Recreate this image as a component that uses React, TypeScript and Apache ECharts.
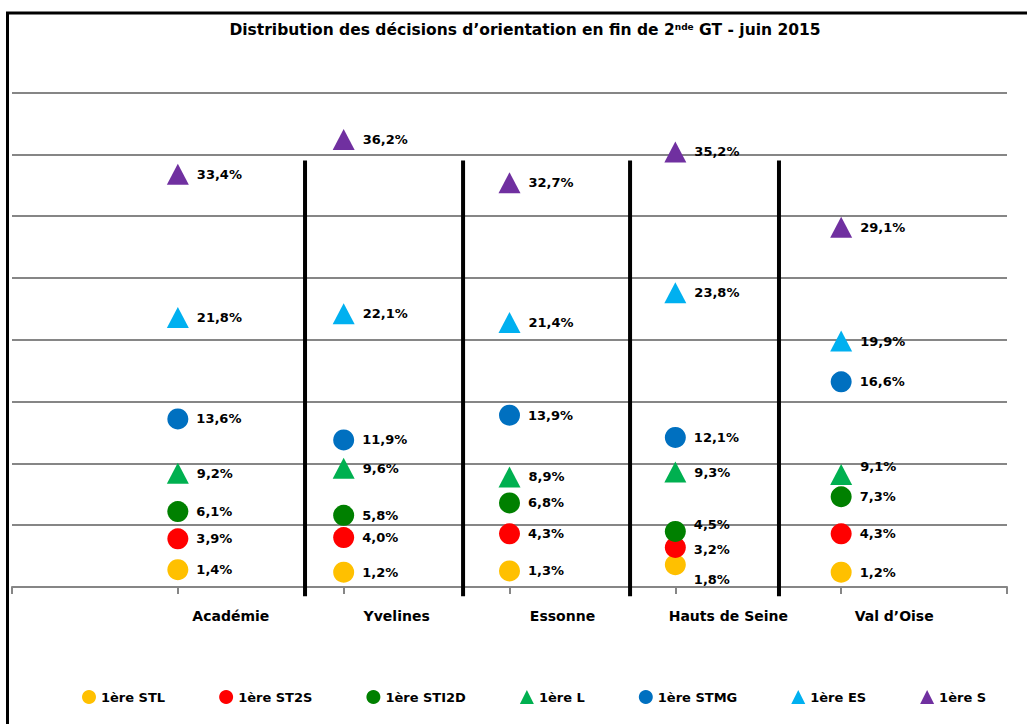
import React, { useEffect, useRef } from "react";
import * as echarts from "echarts";

const categories = ["Académie", "Yvelines", "Essonne", "Hauts de Seine", "Val d’Oise"];
const seriesNames = ["1ère STL", "1ère ST2S", "1ère STI2D", "1ère L", "1ère STMG", "1ère ES", "1ère S"];
const stl = [1.4, 1.2, 1.3, 1.8, 1.2];
const st2s = [3.9, 4.0, 4.3, 3.2, 4.3];
const sti2d = [6.1, 5.8, 6.8, 4.5, 7.3];
const litt = [9.2, 9.6, 8.9, 9.3, 9.1];
const stmg = [13.6, 11.9, 13.9, 12.1, 16.6];
const es = [21.8, 22.1, 21.4, 23.8, 19.9];
const sci = [33.4, 36.2, 32.7, 35.2, 29.1];
const seriesValues = [stl, st2s, sti2d, litt, stmg, es, sci];
const separatorX = [1.767, 2.72, 3.727, 4.625];
const separatorRange = [-0.75, 34.5];

const colors = ["#FFC000", "#FF0000", "#008000", "#00B050", "#0070C0", "#00B0F0", "#7030A0"];
const shapes = ["circle", "circle", "circle", "triangle", "circle", "triangle", "triangle"];
// vertical label nudges (px), keyed "seriesIndex-pointIndex"
const labelShift: Record<string, number> = { "2-3": -7, "1-3": 2, "0-3": 15, "3-4": -8 };

const FONT = "DejaVu Sans";

export default function App() {
  const ref = useRef<HTMLDivElement>(null);
  useEffect(() => {
    if (!ref.current) return;
    const chart = echarts.init(ref.current, undefined, { renderer: "svg" });
    const fmt = (v: number) => v.toFixed(1).replace(".", ",") + "%";
    const series: any[] = [
      {
        name: "separators",
        type: "custom",
        silent: true,
        clip: false,
        data: separatorX.map((x) => [x]),
        encode: { x: 0 },
        renderItem: (params: any, api: any) => {
          const x = api.value(0);
          const a = api.coord([x, separatorRange[1]]);
          const b = api.coord([x, separatorRange[0]]);
          return {
            type: "line",
            shape: { x1: a[0], y1: a[1], x2: b[0], y2: b[1] },
            style: { stroke: "#000", lineWidth: 4 },
          };
        },
      },
    ];
    seriesNames.forEach((name, si) =>
      series.push({
        name,
        type: "scatter",
        symbol: shapes[si],
        symbolSize: shapes[si] === "circle" ? 21 : [22, 21],
        itemStyle: { color: colors[si], opacity: 1 },
        data: seriesValues[si].map((v, i) => {
          const sh = labelShift[`${si}-${i}`];
          const item: any = { value: [i + 1, v] };
          if (sh) item.label = { offset: [0, sh] };
          return item;
        }),
        label: {
          show: true,
          position: "right",
          distance: 8,
          formatter: (p: any) => fmt(p.value[1]),
          color: "#000",
          fontFamily: FONT,
          fontWeight: "bold",
          fontSize: 13,
        },
        emphasis: { disabled: true },
      })
    );
    chart.setOption({
      animation: false,
      backgroundColor: "#fff",
      title: {
        text: "Distribution des décisions d’orientation en fin de 2{sup|nde} GT - juin 2015",
        left: 525,
        textAlign: "center",
        top: 22,
        padding: 0,
        textStyle: {
          fontFamily: FONT,
          fontWeight: "bold",
          fontSize: 15.5,
          color: "#000",
          rich: {
            sup: { fontFamily: FONT, fontWeight: "bold", fontSize: 9, verticalAlign: "top", color: "#000" },
          },
        },
      },
      legend: {
        data: seriesNames,
        left: 82,
        top: 690,
        padding: 0,
        itemGap: 54,
        itemWidth: 14,
        itemHeight: 14,
        itemStyle: { opacity: 1 },
        textStyle: { fontFamily: FONT, fontWeight: "bold", fontSize: 13, color: "#000" },
      },
      grid: { left: 12, right: 20, top: 92.6, bottom: 137, containLabel: false },
      xAxis: {
        type: "value",
        min: 0,
        max: 6,
        interval: 1,
        axisLine: { show: true, lineStyle: { color: "#868686", width: 2 } },
        axisTick: { show: true, length: 7, lineStyle: { color: "#868686", width: 2 } },
        splitLine: { show: false },
        axisLabel: {
          margin: 22,
          padding: [0, 0, 0, 106],
          fontFamily: FONT,
          fontWeight: "bold",
          fontSize: 14,
          color: "#000",
          formatter: (v: number) => (v >= 1 && v <= categories.length ? categories[v - 1] : ""),
        },
      },
      yAxis: {
        type: "value",
        min: 0,
        max: 40,
        interval: 5,
        axisLine: { show: false },
        axisTick: { show: false },
        axisLabel: { show: false },
        splitLine: { show: true, lineStyle: { color: "#868686", width: 2 } },
      },
      graphic: [
        {
          type: "rect",
          shape: { x: 7.5, y: 13, width: 1200, height: 1000 },
          style: { fill: "none", stroke: "#000", lineWidth: 3 },
          silent: true,
          z: 100,
        },
      ],
      series,
    });
    return () => chart.dispose();
  }, []);
  return (
    <div
      ref={ref}
      style={{ position: "fixed", left: 0, top: 0, width: 1027, height: 724, background: "#fff" }}
    />
  );
}
